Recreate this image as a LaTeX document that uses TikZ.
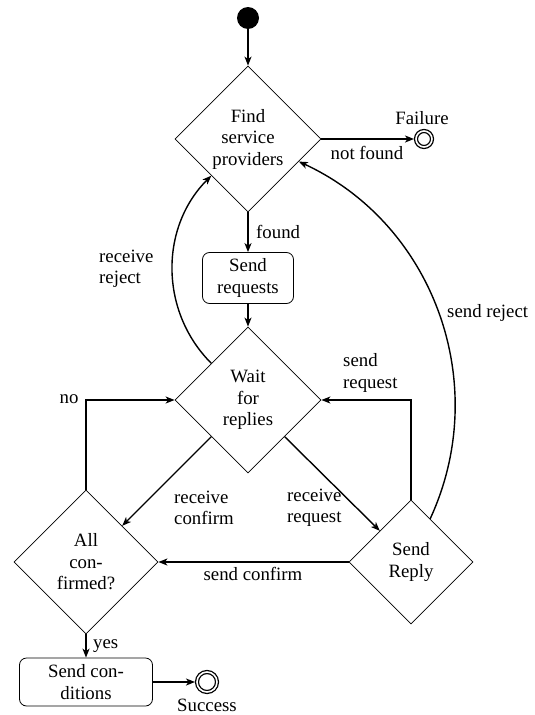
\documentclass[tikz,border=0pt]{standalone}
\usepackage{fontspec}
\setmainfont{Liberation Serif}
\usetikzlibrary{shapes.geometric,arrows.meta}
\begin{document}
\begin{tikzpicture}[x=1pt,y=-1pt,
  every node/.style={font=\fontsize{18.8}{21.5}\selectfont},
  dia/.style={diamond,draw,line width=0.8pt,aspect=1,inner sep=0pt,align=center},
  act/.style={rectangle,rounded corners=7pt,draw,line width=0.8pt,align=center,inner sep=0pt},
  endst/.style={circle,draw,line width=1.3pt,double=white,double distance=1.6pt,inner sep=0pt,outer sep=2pt},
  lbl/.style={inner sep=0pt,align=left},
  conn/.style={line width=1.4pt,-{Stealth[length=9pt,width=7pt,inset=2.5pt]}}
]
\useasboundingbox (0,0) rectangle (535,715);
% states
\node[circle,fill=black,minimum size=22pt,inner sep=0pt] (start) at (248,18) {};
\node[dia,minimum width=146pt,minimum height=146pt] (find) at (248,139) {Find\\service\\providers};
\node[endst,minimum size=16pt] (fail) at (424,139) {};
\node[act,minimum width=91pt,minimum height=51pt] (sreq) at (248,278) {Send\\requests};
\node[dia,minimum width=146pt,minimum height=146pt] (wait) at (248,400) {Wait\\for\\replies};
\node[dia,minimum width=144pt,minimum height=144pt] (all) at (86,562) {All\\con-\\firmed?};
\node[dia,minimum width=124pt,minimum height=124pt] (reply) at (411,562) {Send\\Reply};
\node[act,minimum width=133pt,minimum height=48pt] (scond) at (86,682) {Send con-\\ditions};
\node[endst,minimum size=20pt] (succ) at (207,682) {};
% connectors
\draw[conn] (start) -- (find);
\draw[conn] (find) -- (fail);
\draw[conn] (find) -- (sreq);
\draw[conn] (sreq) -- (wait);
\draw[conn] (wait.south west) -- (all.north east);
\draw[conn] (wait.south east) -- (reply.north west);
\draw[conn] (reply) -- (all);
\draw[conn] (reply.north) |- (wait.east);
\draw[conn] (all.north) |- (wait.west);
\draw[conn] (all) -- (scond);
\draw[conn] (scond) -- (succ);
\draw[conn] (wait) to[bend left=45] (find);
\draw[conn] (reply) to[bend right=45] (find);
% labels
\node[lbl,anchor=base] (lfail) at (422,124) {Failure};
\node[lbl,anchor=base] (lnf) at (367,159) {not found};
\node[lbl,anchor=base west] (lfound) at (256,238) {found};
\node[lbl,anchor=west] (lrrej) at (99,269) {receive\\reject};
\node[lbl,anchor=base west] (lsrej) at (447,317) {send reject};
\node[lbl,anchor=west] (lsreq) at (343,373) {send\\request};
\node[lbl,anchor=west] (lrconf) at (174,508) {receive\\confirm};
\node[lbl,anchor=west] (lrreq) at (287,508) {receive\\request};
\node[lbl,anchor=base] (lsconf) at (253,580) {send confirm};
\node[lbl,anchor=base] (lno) at (69,403) {no};
\node[lbl,anchor=base west] (lyes) at (93,648) {yes};
\node[lbl,anchor=base] (lsucc) at (207,711) {Success};
\end{tikzpicture}
\end{document}
